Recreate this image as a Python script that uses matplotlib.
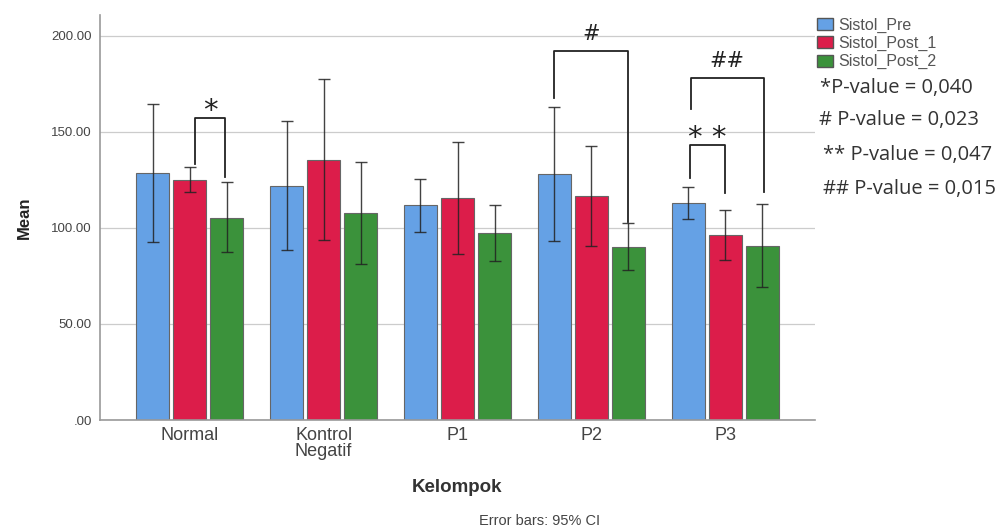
import numpy as np
import matplotlib
matplotlib.use("Agg")
from matplotlib import pyplot as plt
from matplotlib.patches import Patch

# data
kelompok = ["Normal", "Kontrol\nNegatif", "P1", "P2", "P3"]
seri = ["Sistol_Pre", "Sistol_Post_1", "Sistol_Post_2"]
warna = ["#65a1e5", "#dc1d4a", "#3b923b"]

pre_mean = [128.6, 121.9, 112.0, 128.1, 113.0]
pre_lo = [92.7, 88.5, 97.9, 93.2, 104.7]
pre_hi = [164.6, 155.7, 125.5, 163.0, 121.4]

post1_mean = [125.0, 135.4, 115.6, 116.7, 96.4]
post1_lo = [118.8, 93.8, 86.5, 90.6, 83.3]
post1_hi = [131.8, 177.6, 144.8, 142.7, 109.4]

post2_mean = [105.2, 107.8, 97.4, 90.1, 90.6]
post2_lo = [87.5, 81.2, 82.8, 78.1, 69.3]
post2_hi = [123.8, 134.4, 112.0, 102.6, 112.5]

# significance brackets: x left, x right, y left, y top, y right, label
brk_x1 = [0.04, 2.723, 3.742, 3.734]
brk_x2 = [0.266, 3.277, 4.288, 3.996]
brk_y1 = [133.3, 167.7, 162.0, 126.0]
brk_top = [157.3, 192.2, 178.0, 143.2]
brk_y2 = [126.6, 103.1, 118.75, 118.2]
brk_lbl = ["*", "#", "##", "**"]

pval_txt = ["*P-value = 0,040", "# P-value = 0,023", "** P-value = 0,047", "## P-value = 0,015"]

means = [pre_mean, post1_mean, post2_mean]
los = [pre_lo, post1_lo, post2_lo]
his = [pre_hi, post1_hi, post2_hi]

plt.rcParams['font.family'] = ['Liberation Sans', 'DejaVu Sans']

fig = plt.figure(figsize=(10.01, 5.32), dpi=100)
ax = fig.add_axes([0.0999, 0.2105, 0.7143, 0.7613])

x = np.arange(len(kelompok))
lebar = 0.245
geser = 0.277
for s in range(3):
    m = np.array(means[s])
    err = np.array([m - np.array(los[s]), np.array(his[s]) - m])
    xs = x + (s - 1) * geser
    ax.bar(xs, m, width=lebar, color=warna[s], edgecolor="#666666", linewidth=0.8, zorder=2)
    ax.errorbar(xs, m, yerr=err, fmt="none", ecolor="#222222", elinewidth=1.0,
                capsize=4.5, capthick=1.0, alpha=0.85, zorder=3)

for i in range(len(brk_lbl)):
    ax.plot([brk_x1[i], brk_x1[i], brk_x2[i], brk_x2[i]],
            [brk_y1[i], brk_top[i], brk_top[i], brk_y2[i]],
            color="#222222", linewidth=1.3, zorder=4)
    if "*" in brk_lbl[i]:
        ax.text((brk_x1[i] + brk_x2[i]) / 2, brk_top[i] - 3.5, " ".join(brk_lbl[i]),
                ha="center", va="bottom", fontsize=21, color="#222222",
                family="DejaVu Sans")
    else:
        ax.text((brk_x1[i] + brk_x2[i]) / 2, brk_top[i] + 3.5, brk_lbl[i],
                ha="center", va="bottom", fontsize=15, color="#222222",
                family="DejaVu Sans")

ax.set_xlim(-0.67, 4.67)
ax.set_ylim(0, 210.9)
ax.set_yticks([0, 50, 100, 150, 200])
ax.set_yticklabels([".00", "50.00", "100.00", "150.00", "200.00"])
ax.set_xticks(x)
ax.set_xticklabels(kelompok, fontsize=13, color="#444444", linespacing=0.9)
ax.tick_params(axis="y", length=0, labelsize=9.5, labelcolor="#444444", pad=6)
ax.tick_params(axis="x", length=0, pad=5)
ax.grid(axis="y", color="#cccccc", linewidth=0.9, zorder=0)
ax.set_axisbelow(True)
for sp in ["top", "right"]:
    ax.spines[sp].set_visible(False)
ax.spines["left"].set_color("#999999")
ax.spines["bottom"].set_color("#999999")
ax.spines["left"].set_linewidth(1.2)
ax.spines["bottom"].set_linewidth(1.2)

ax.set_ylabel("Mean", fontsize=12, fontweight="bold", color="#222222", labelpad=14)
fig.text(0.4565, 0.083, "Kelompok", ha="center", va="center", fontsize=13.5,
         fontweight="bold", color="#333333")
fig.text(0.539, 0.021, "Error bars: 95% CI", ha="center", va="center",
         fontsize=10.5, color="#444444")

handles = [Patch(facecolor=warna[s], edgecolor="#555555", label=seri[s]) for s in range(3)]
fig.legend(handles=handles, loc="upper left", bbox_to_anchor=(0.813, 0.973),
           frameon=False, fontsize=11.5, handlelength=1.0, handleheight=0.75,
           handletextpad=0.3, labelspacing=0.2, labelcolor="#555555",
           borderpad=0.2, borderaxespad=0)

py = [88, 120, 155, 189]
px = [820, 819, 823, 823]
for i in range(len(pval_txt)):
    fig.text(px[i] / 1001, 1 - py[i] / 532, pval_txt[i], ha="left", va="center",
             fontsize=14.5, color="#333333", family=["Open Sans", "DejaVu Sans"])

fig.savefig("out.png", dpi=100)
